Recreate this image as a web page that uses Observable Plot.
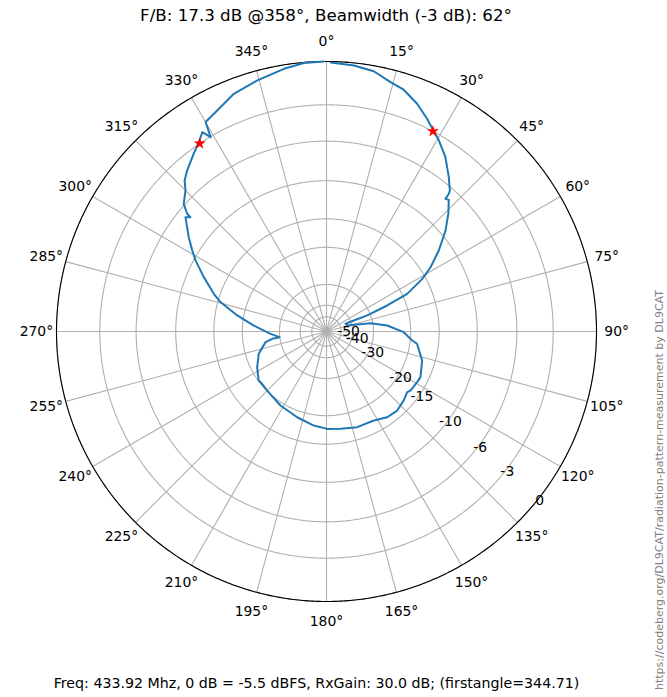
<!DOCTYPE html>
<html><head><meta charset="utf-8">
<script src="https://cdn.jsdelivr.net/npm/d3@7"></script>
<script src="https://cdn.jsdelivr.net/npm/@observablehq/plot@0.6"></script>
<style>
body{margin:0;background:#fff;font-family:"DejaVu Sans",sans-serif;}
#wrap{position:relative;width:667px;height:697px;overflow:hidden;}
#chart{position:absolute;left:0;top:0;}
#title{position:absolute;left:0;width:652px;top:5px;text-align:center;font-size:16.7px;color:#000;white-space:nowrap;}
#caption{position:absolute;left:0;width:633px;top:675px;text-align:center;font-size:14.2px;color:#000;white-space:nowrap;}
#url{position:absolute;left:659px;top:490px;transform:translate(-50%,-50%) rotate(-90deg);font-size:11px;color:#808080;white-space:nowrap;}
</style></head><body>
<div id="wrap">
<div id="chart"></div>
<div id="title">F/B: 17.3 dB @358°, Beamwidth (-3 dB): 62°</div>
<div id="caption">Freq: 433.92 Mhz, 0 dB = -5.5 dBFS, RxGain: 30.0 dB; (firstangle=344.71)</div>
<div id="url">https://codeberg.org/DL9CAT/radiation-pattern-measurement by DL9CAT</div>
</div>
<script>
// measured pattern: bearing (deg, clockwise from north) and relative gain (dB)
const angles = [0.9,5.9,10.3,14.4,17.7,21.7,25.3,28.0,30.5,34.3,38.4,41.2,41.6,41.9,42.9,46.0,49.7,54.2,58.3,61.2,65.0,66.8,68.5,68.1,67.9,73.8,79.3,84.4,90.5,96.0,97.7,106.9,115.9,119.2,125.1,126.9,131.8,138.2,144.7,152.0,162.2,171.8,179.6,187.7,198.9,211.9,225.1,230.9,234.1,242.7,251.8,260.1,262.3,263.1,267.6,274.7,280.2,285.5,288.5,293.9,298.5,301.1,304.4,309.0,310.0,310.2,311.8,315.0,316.8,319.1,323.2,326.0,328.1,329.2,330.0,333.7,338.7,344.6,350.8,355.2,359.4];
const gains = [-0.06,-0.17,-0.35,-0.82,-1.06,-1.66,-2.36,-2.93,-3.39,-4.23,-5.42,-6.28,-6.56,-7.13,-6.99,-8.01,-9.41,-11.46,-13.59,-15.52,-19.03,-24.17,-31.2,-38.0,-44.2,-43.3,-30.8,-25.5,-21.5,-19.6,-18.6,-17.05,-16.3,-16.4,-16.6,-16.9,-16.45,-16.04,-16.2,-16.92,-16.97,-17.35,-17.5,-17.94,-18.73,-19.4,-20.1,-20.25,-20.1,-21.3,-22.85,-25.3,-27.4,-29.9,-27.0,-22.47,-18.72,-15.4,-14.09,-12.0,-10.2,-9.33,-8.25,-6.82,-7.18,-6.73,-5.89,-5.2,-4.54,-4.08,-3.37,-2.88,-2.39,-3.03,-1.89,-1.56,-0.97,-0.62,-0.25,-0.04,0.0];
// -3 dB beamwidth markers
const markerAngles = [28, 326];
const markerGains = [-3, -3];
// tick labels
const radialTicks = [-50, -40, -30, -20, -15, -10, -6, -3, 0];
const angleTicks = [0,15,30,45,60,75,90,105,120,135,150,165,180,195,210,225,240,255,270,285,300,315,330,345];
const radialLabelAngle = 131.5;

// ARRL log scale: 0.89 per 2 dB
const frac = d => Math.pow(0.89, -d / 2);
const lat = d => 90 - 90 * frac(d);
const lon = a => 180 - a;

const pattern = angles.map((a, i) => ({a, g: gains[i]}));
const markers = markerAngles.map((a, i) => ({a, g: markerGains[i]}));
const circle = r => d3.geoCircle().center([0, 90]).radius(r).precision(0.5)();

const chart = Plot.plot({
  width: 667, height: 697,
  marginLeft: 26, marginRight: 41, marginTop: 31, marginBottom: 66,
  style: {fontFamily: "DejaVu Sans", background: "white"},
  projection: {type: "azimuthal-equidistant", rotate: [0, -90], domain: circle(100), inset: 0},
  marks: [
    Plot.geo(radialTicks, {geometry: d => circle(90 * frac(d)), stroke: "#b0b0b0", strokeWidth: 1.1, fill: "none"}),
    Plot.link(angleTicks, {x1: a => lon(a), y1: 90, x2: a => lon(a), y2: 0, stroke: "#b0b0b0", strokeWidth: 1.1}),
    Plot.geo([0], {geometry: () => circle(90), stroke: "black", strokeWidth: 1.1, fill: "none"}),
    Plot.line(pattern, {x: d => lon(d.a), y: d => lat(d.g), stroke: "#1f77b4", strokeWidth: 2, curve: "linear"}),
    Plot.dot(markers, {x: d => lon(d.a), y: d => lat(d.g), symbol: "star", fill: "red", stroke: "none", r: 3.8}),
    Plot.text(angleTicks, {x: a => lon(a), y: -6.7, text: a => a + "°", fontSize: 13.9, fill: "black"}),
    Plot.text(radialTicks, {x: lon(radialLabelAngle), y: d => lat(d), text: d => String(d), dx: 11, dy: -10, fontSize: 13.9, fill: "black"})
  ]
});
document.getElementById("chart").appendChild(chart);
</script>
</body></html>
